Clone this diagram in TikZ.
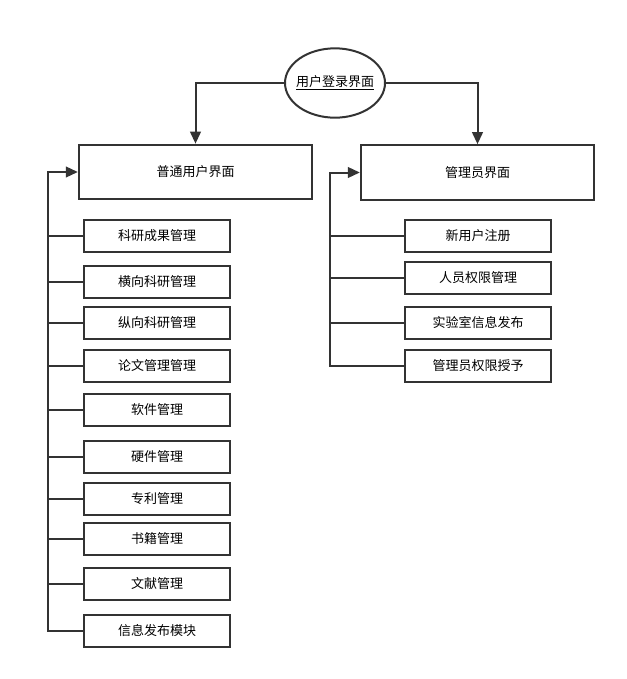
\documentclass[tikz,border=0pt]{standalone}
\usepackage{fontspec}
\setmainfont{Noto Sans CJK SC}
\usetikzlibrary{shapes.geometric,arrows.meta}

\tikzset{
  box/.style={draw=black!80,line width=1.5pt,minimum width=110pt,minimum height=23.5pt,inner sep=0pt},
  bigbox/.style={draw=black!80,line width=1.5pt,minimum width=175pt,minimum height=41pt,inner sep=0pt},
  line/.style={draw=black!80,line width=1.5pt},
  arrow/.style={line,-{Triangle[length=9pt,width=8pt]}}
}

\begin{document}
\begin{tikzpicture}[x=0.75pt,y=-0.75pt,font=\fontsize{9.75}{12}\selectfont]
    \useasboundingbox (0,0) rectangle (627,679);
    \node[ellipse,draw=black!80,line width=1.5pt,minimum width=75pt,minimum height=52pt,inner sep=0pt]
      (login) at (335,83) {};
    \node (logintext) at (login.center) {\underline{用户登录界面}};
    \node[bigbox] (user) at (195.5,172) {普通用户界面};
    \node[bigbox] (admin) at (477.5,172.5) {管理员界面};
    \draw[arrow] (login.west) -| (user.north);
    \draw[arrow] (login.east) -| (admin.north);
    % user side
    \coordinate (ltrunk) at (48,0);
    \foreach \i/\y/\t in {1/236/科研成果管理,2/282/横向科研管理,3/323/纵向科研管理,
        4/366/论文管理管理,5/410/软件管理,6/457/硬件管理,7/499/专利管理,
        8/539/书籍管理,9/584/文献管理,10/631/信息发布模块}
      \node[box] (u\i) at (157,\y) {\t};
    \foreach \i in {1,...,9}
      \draw[line] (u\i.west) -- (u\i.west -| ltrunk);
    \draw[arrow] (u10.west) -- (u10.west -| ltrunk) |- (user.west);
    % admin side
    \coordinate (rtrunk) at (330,0);
    \foreach \i/\y/\t in {1/236/新用户注册,2/278/人员权限管理,3/323/实验室信息发布,4/366/管理员权限授予}
      \node[box] (a\i) at (478,\y) {\t};
    \foreach \i in {1,...,3}
      \draw[line] (a\i.west) -- (a\i.west -| rtrunk);
    \draw[arrow] (a4.west) -- (a4.west -| rtrunk) |- (admin.west);
\end{tikzpicture}
\end{document}
